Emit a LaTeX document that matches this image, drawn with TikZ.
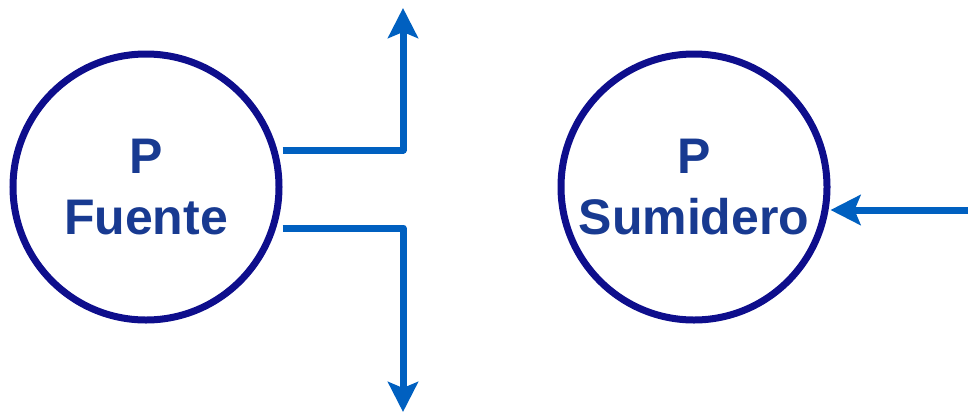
\documentclass[tikz,border=0pt]{standalone}
\usepackage{fontspec}
\setmainfont{Liberation Sans}
\usetikzlibrary{arrows.meta}
\definecolor{navy}{RGB}{14,14,140}
\definecolor{flow}{RGB}{0,96,192}
\definecolor{txt}{RGB}{24,58,145}
\tikzset{
  proc/.style={circle, draw=navy, line width=7pt, minimum size=266pt, inner sep=0pt,
    text=txt, font=\fontsize{50}{61}\selectfont\bfseries, align=center},
  flowline/.style={draw=flow, line width=7pt, line join=round,
    -{Stealth[length=30pt,width=30pt,inset=6pt]}}
}
\begin{document}
\begin{tikzpicture}[x=1pt,y=-1pt]
\useasboundingbox (0,0) rectangle (968,413);
\node[proc] (src) at (146,187) {P\\Fuente};
\node[proc] (snk) at (694,187) {P\\Sumidero};
\coordinate (up) at (403,8);
\coordinate (dn) at (403,412);
\coordinate (in) at (968,210);
\draw[flowline] (src.east |- 0,150) -| (up);
\draw[flowline] (src.east |- 0,228) -| (dn);
\draw[flowline] (in) -- (in -| snk.east);
\end{tikzpicture}
\end{document}
